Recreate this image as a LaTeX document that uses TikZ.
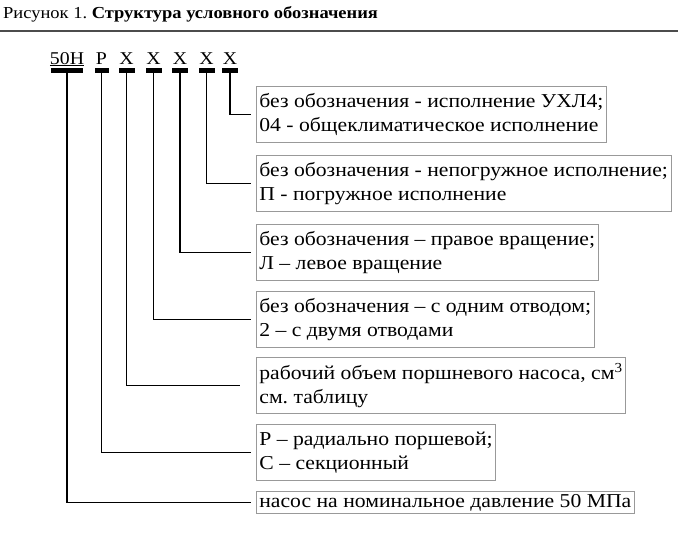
\documentclass[tikz,border=0pt]{standalone}
\usepackage{fontspec}
\setmainfont[FakeStretch=1.1]{Liberation Serif}
\frenchspacing
\begin{document}
\begin{tikzpicture}[x=1pt,y=-1pt,font=\fontsize{19.7}{24}\selectfont]
    \tikzstyle{codebar}=[rectangle,fill=black,minimum height=5pt,minimum width=16pt,inner sep=0pt]
    \tikzstyle{code}=[inner sep=0pt,anchor=base,font=\fontsize{18}{20}\selectfont]
    \tikzstyle{descr}=[draw=black!40,line width=0.8pt,anchor=north west,align=left,inner xsep=3pt,inner ysep=2pt,minimum height=56pt]
    \tikzstyle{link}=[line width=1.6pt,shorten >=5pt]

    \useasboundingbox (0,0) rectangle (700,541);

    % Title and rule
    \node[anchor=base west,inner sep=0pt,font=\fontsize{16.8}{18}\selectfont] (T) at (3,18) {Рисунок 1. \textbf{Структура условного обозначения}};
    \coordinate (R-0) at (0,31);
    \coordinate (R-1) at (678,31);
    \draw[black!70,line width=1.2pt] (R-0) -- (R-1);

    % Draw the code letters
    \node[code] (L-0) at (67,64) {\underline{50Н}};
    \node[code] (L-1) at (101.5,64) {Р};
    \node[code] (L-2) at (126.5,64) {Х};
    \node[code] (L-3) at (153.5,64) {Х};
    \node[code] (L-4) at (180,64) {Х};
    \node[code] (L-5) at (206.5,64) {Х};
    \node[code] (L-6) at (230,64) {Х};
    % bars under the letters
    \node[codebar,minimum width=32pt] (B-0) at (67,70.5) {};
    \node[codebar,minimum width=14pt] (B-1) at (101.5,70.5) {};
    \node[codebar] (B-2) at (126.5,70.5) {};
    \node[codebar] (B-3) at (153.5,70.5) {};
    \node[codebar] (B-4) at (180,70.5) {};
    \node[codebar] (B-5) at (206.5,70.5) {};
    \node[codebar] (B-6) at (230,70.5) {};

    % Description boxes
    \node[descr] (D-1) at (256,86) {без обозначения - исполнение УХЛ4;\\04 - общеклиматическое исполнение};
    \node[descr] (D-2) at (256,155) {без обозначения - непогружное исполнение;\\П - погружное исполнение};
    \node[descr] (D-3) at (256,224) {без обозначения -- правое вращение;\\Л -- левое вращение};
    \node[descr] (D-4) at (256,291) {без обозначения -- с одним отводом;\\2 -- с двумя отводами};
    \node[descr] (D-5) at (256,357) {рабочий объем поршневого насоса, см\textsuperscript{3}\\см. таблицу};
    \node[descr] (D-6) at (256,424) {Р -- радиально поршевой;\\С -- секционный};
    \node[descr,minimum height=22pt] (D-7) at (256,491) {насос на номинальное давление 50 МПа};

    % Connectors
    \draw[link] (B-6.south) |- (D-1.west);
    \draw[link] (B-5.south) |- (D-2.west);
    \draw[link] (B-4.south) |- (D-3.west);
    \draw[link] (B-3.south) |- (D-4.west);
    \draw[link,shorten >=16pt] (B-2.south) |- (D-5.west);
    \draw[link] (B-1.south) |- (D-6.west);
    \draw[link] (B-0.south) |- (D-7.west);
\end{tikzpicture}
\end{document}
